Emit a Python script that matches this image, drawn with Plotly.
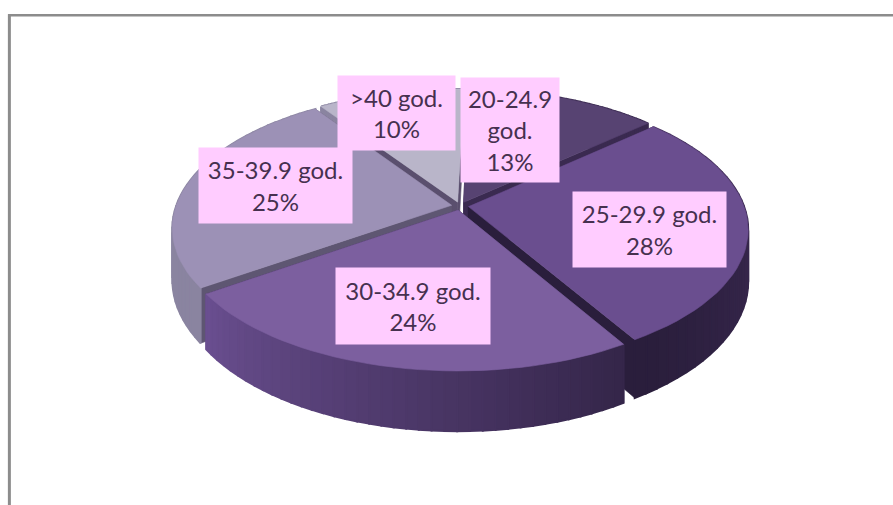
import numpy as np
import plotly.graph_objects as go

categories = ["20-24.9 god.", "25-29.9 god.", "30-34.9 god.", "35-39.9 god.", ">40 god."]
values = [13, 28, 24, 25, 10]
label_text = ["20-24.9<br>god.<br>13%", "25-29.9 god.<br>28%", "30-34.9 god.<br>24%", "35-39.9 god.<br>25%", ">40 god.<br>10%"]
top_colors = ["#574372", "#6A4E8F", "#7C5F9F", "#9C91B6", "#B9B5C9"]
wall_start = ["#3A2A50", "#46325F", "#35264A", "#8A84A0", "#8A84A0"]
wall_end = ["#3A2A50", "#2A1E3C", "#6A4F90", "#8E88A4", "#8A84A0"]
cut_colors = ["#3A2A50", "#2A1E3C", "#3A2A50", "#5E5672", "#5A4F6E"]
boxes = [(461, 559, 78, 182), (573, 726, 192, 267), (336, 490, 268, 344), (199, 352, 148, 223), (338, 455, 76, 150)]

XC, YC, A, B, K, D = 460, 206, 137, 284, 0.17, 50
RADIUS, EXPLODE = 0.97, 0.03
ROTATION = np.radians(1.5)


def project(u, v, z=0.0):
    w = 1 + K * v
    return XC + B * u / w, YC + (-A * v + D * z) / w


def hex_rgb(h):
    return np.array([int(h[i:i + 2], 16) for i in (1, 3, 5)], dtype=float)


def mix(c1, c2, t):
    r = hex_rgb(c1) * (1 - t) + hex_rgb(c2) * t
    return "rgb(%d,%d,%d)" % tuple(r)


fig = go.Figure()


def poly(xs, ys, color, lw=0.6):
    fig.add_trace(go.Scatter(x=list(xs) + [xs[0]], y=list(ys) + [ys[0]], mode="lines", fill="toself",
                             fillcolor=color, line=dict(color=color, width=lw),
                             hoverinfo="skip", showlegend=False))


total = sum(values)
edges = np.concatenate([[0], np.cumsum(values)]) / total * 2 * np.pi + ROTATION
mids = (edges[:-1] + edges[1:]) / 2
order = np.argsort(-np.cos(mids))

for i in order:
    t0, t1, m = edges[i], edges[i + 1], mids[i]
    ox, oy = EXPLODE * np.sin(m), EXPLODE * np.cos(m)
    th = np.linspace(t0, t1, 40)
    us = ox + RADIUS * np.sin(th)
    vs = oy + RADIUS * np.cos(th)
    # radial cut faces
    for t in (t0, t1):
        ue, ve = ox + RADIUS * np.sin(t), oy + RADIUS * np.cos(t)
        pts = [project(ox, oy, 0), project(ue, ve, 0), project(ue, ve, 1), project(ox, oy, 1)]
        poly([p[0] for p in pts], [p[1] for p in pts], cut_colors[i])
    # outer wall, shaded along the arc
    for j in np.argsort(-vs[:-1]):
        pts = [project(us[j], vs[j], 0), project(us[j + 1], vs[j + 1], 0),
               project(us[j + 1], vs[j + 1], 1), project(us[j], vs[j], 1)]
        poly([p[0] for p in pts], [p[1] for p in pts], mix(wall_start[i], wall_end[i], j / 38), lw=2)
    # top face
    px, py = project(np.append(us, ox), np.append(vs, oy), 0)
    poly(list(px), list(py), top_colors[i])

annotations = []
for i, txt in enumerate(label_text):
    x0, x1, y0, y1 = boxes[i]
    annotations.append(dict(x=(x0 + x1) / 2, y=(y0 + y1) / 2, xref="x", yref="y", text=txt, showarrow=False,
                            width=x1 - x0, height=y1 - y0, bgcolor="#FFCCFF", align="center", valign="middle",
                            borderpad=0, font=dict(family="Lato", size=24, color="#46304F")))

fig.update_layout(
    width=893, height=505, autosize=False, margin=dict(l=0, r=0, t=0, b=0),
    paper_bgcolor="white", plot_bgcolor="white", showlegend=False,
    xaxis=dict(range=[0, 893], visible=False, fixedrange=True),
    yaxis=dict(range=[505, 0], visible=False, fixedrange=True),
    annotations=annotations,
    shapes=[
        dict(type="line", xref="paper", yref="paper", x0=0.0105, x1=0.0105, y0=0, y1=0.972,
             line=dict(color="#8C8C8C", width=3)),
        dict(type="line", xref="paper", yref="paper", x0=0.009, x1=1, y0=0.97, y1=0.97,
             line=dict(color="#8C8C8C", width=2.5)),
    ],
)
fig.write_html("out.html", config={"displayModeBar": False},
               post_script="document.body.style.margin='0';document.documentElement.style.overflow='hidden';")
